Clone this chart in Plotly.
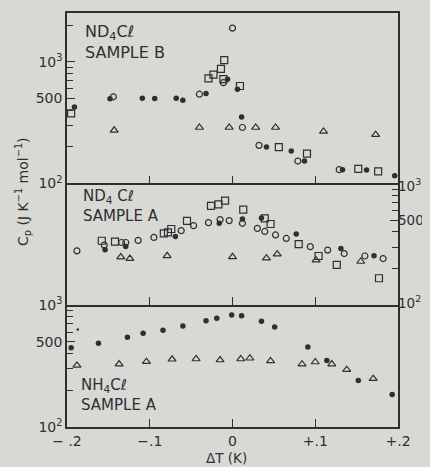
import math
import plotly.graph_objects as go

# ---------------- data ----------------
# Panel 1: ND4Cl, sample B
b_filled_x = [-0.191, -0.148, -0.109, -0.094, -0.068, -0.060, -0.032, -0.006, 0.006, 0.011, 0.041, 0.071, 0.087, 0.133, 0.162, 0.196]
b_filled_y = [427, 497, 504, 500, 504, 485, 549, 720, 595, 352, 200, 185, 153, 130, 129, 116]
b_circle_x = [-0.144, -0.040, -0.011, 0.000, 0.012, 0.032, 0.079, 0.129]
b_circle_y = [517, 543, 676, 1900, 289, 206, 153, 130]
b_square_x = [-0.195, -0.029, -0.023, -0.014, -0.010, -0.011, 0.009, 0.056, 0.090, 0.152, 0.176]
b_square_y = [377, 733, 788, 878, 1036, 722, 634, 199, 176, 132, 126]
b_tri_x = [-0.143, -0.040, -0.004, 0.028, 0.052, 0.110, 0.173]
b_tri_y = [274, 289, 289, 289, 289, 268, 252]

# Panel 2: ND4Cl, sample A
a_circle_x = [-0.188, -0.155, -0.134, -0.129, -0.114, -0.095, -0.062, -0.047, -0.029, -0.015, -0.004,
              0.012, 0.030, 0.039, 0.052, 0.065, 0.094, 0.115, 0.135, 0.160, 0.182]
a_circle_y = [279, 311, 327, 327, 340, 360, 409, 450, 476, 504, 495,
              470, 427, 403, 377, 353, 302, 283, 265, 253, 241]
a_square_x = [-0.158, -0.142, -0.083, -0.078, -0.074, -0.055, -0.026, -0.017, -0.009,
              0.013, 0.039, 0.046, 0.080, 0.104, 0.126, 0.177]
a_square_y = [338, 332, 388, 396, 422, 492, 654, 674, 724,
              610, 517, 464, 317, 253, 214, 166]
a_filled_x = [-0.154, -0.129, -0.069, -0.016, 0.012, 0.035, 0.077, 0.131, 0.171]
a_filled_y = [285, 303, 367, 470, 511, 521, 384, 292, 254]
a_tri_x = [-0.135, -0.124, -0.079, 0.000, 0.041, 0.054, 0.101, 0.155]
a_tri_y = [248, 241, 254, 249, 243, 262, 234, 228]

# Panel 3: NH4Cl, sample A
n_filled_x = [-0.195, -0.162, -0.127, -0.108, -0.084, -0.060, -0.032, -0.019, -0.001, 0.011,
              0.035, 0.051, 0.091, 0.114, 0.152, 0.193]
n_filled_y = [447, 485, 544, 586, 621, 673, 743, 778, 828, 817,
              735, 661, 453, 350, 241, 185]
n_small_x = [-0.187]
n_small_y = [630]
n_tri_x = [-0.188, -0.137, -0.104, -0.073, -0.044, -0.015, 0.010, 0.021, 0.046, 0.084, 0.100, 0.120, 0.138, 0.170]
n_tri_y = [320, 328, 343, 359, 361, 354, 361, 366, 348, 327, 341, 328, 295, 249]

x_tick_vals = [-0.2, -0.1, 0, 0.1, 0.2]
x_tick_text = ["\u2212 .2", "\u2212.1", "0", "+.1", "+.2"]
y_major_vals = [100, 500, 1000]
y_major_text = ["10<sup>2</sup>", "500", "10<sup>3</sup>"]
y_minor_vals = [200, 300, 400, 600, 700, 800, 900, 2000]

# ---------------- style ----------------
INK = "#2f2f2f"
BG = "#d8d8d5"
FONT = "DejaVu Sans"
OFF = 8  # default page margin of the html body

fig = go.Figure()


def add(xs, ys, symbol, size, panel, lw=1.2):
    fig.add_trace(go.Scatter(
        x=xs, y=ys, mode="markers",
        xaxis="x" if panel == 1 else f"x{panel}",
        yaxis="y" if panel == 1 else f"y{panel}",
        marker=dict(symbol=symbol, size=size, color=INK, line=dict(width=lw, color=INK)),
        showlegend=False, hoverinfo="skip", cliponaxis=False,
    ))


add(b_tri_x, b_tri_y, "triangle-up-open", 7, 1)
add(b_square_x, b_square_y, "square-open", 7, 1)
add(b_circle_x, b_circle_y, "circle-open", 6, 1)
add(b_filled_x, b_filled_y, "circle", 5.5, 1, 0)

add(a_tri_x, a_tri_y, "triangle-up-open", 7, 2)
add(a_square_x, a_square_y, "square-open", 7, 2)
add(a_circle_x, a_circle_y, "circle-open", 6, 2)
add(a_filled_x, a_filled_y, "circle", 5.5, 2, 0)

add(n_tri_x, n_tri_y, "triangle-up-open", 7, 3)
add(n_filled_x, n_filled_y, "circle", 5.5, 3, 0)
add(n_small_x, n_small_y, "circle", 2.5, 3, 0)

D3 = 0.2947
D2 = 0.5882

common_x = dict(range=[-0.2, 0.2], showgrid=False, zeroline=False, showline=True,
                linecolor=INK, linewidth=1.5, ticks="inside", ticklen=8, tickwidth=1.3,
                tickcolor=INK, tickmode="array", tickvals=x_tick_vals, ticktext=x_tick_text,
                domain=[0, 1], fixedrange=True, automargin=False)
common_y = dict(type="log", showgrid=False, zeroline=False, showline=True, mirror=True,
                linecolor=INK, linewidth=1.5, ticks="inside", ticklen=8, tickwidth=1.3,
                tickcolor=INK, tickmode="array", tickvals=y_major_vals, ticktext=y_major_text,
                tickfont=dict(family=FONT, size=14, color=INK), fixedrange=True,
                automargin=False,
                minor=dict(ticks="inside", ticklen=6, tickwidth=1.2, tickcolor=INK,
                           tickmode="array", tickvals=y_minor_vals, showgrid=False))

fig.update_layout(
    width=430 - OFF, height=467 - OFF,
    margin=dict(l=67 - OFF, r=32, t=13 - OFF, b=40),
    paper_bgcolor=BG, plot_bgcolor=BG,
    font=dict(family=FONT, size=15, color=INK),
    xaxis=dict(**common_x, anchor="y", mirror=True, showticklabels=False),
    xaxis2=dict(**common_x, anchor="y2", mirror=False, showticklabels=False),
    xaxis3=dict(**common_x, anchor="y3", mirror=False, showticklabels=True,
                tickfont=dict(family=FONT, size=14, color=INK)),
    yaxis=dict(**common_y, range=[2, 3.403], domain=[D2, 1], anchor="x", side="left"),
    yaxis2=dict(**common_y, range=[2, 3], domain=[D3, D2], anchor="x2", side="right",
                showticklabels=False),
    yaxis3=dict(**common_y, range=[2, 3], domain=[0, D3], anchor="x3", side="left"),
)


def px2paper(px, py):
    # px, py are screen pixels; plot area spans x 67..398, y 13..427 on screen
    return (px - 67) / 331, (427 - py) / 414


def label(text, px, py, size=16, **kw):
    xp, yp = px2paper(px, py)
    fig.add_annotation(text=text, x=xp, y=yp, xref="paper", yref="paper", showarrow=False,
                       xanchor=kw.get("xanchor", "left"), yanchor="middle", align="left",
                       borderpad=0,
                       font=dict(family=FONT, size=size, color=INK), textangle=kw.get("angle", 0))


label("ND<sub>4</sub>C\u2113<br>SAMPLE B", 84, 42, size=16)
label("ND<sub>4</sub> C\u2113<br>SAMPLE A", 82, 206, size=15)
label("NH<sub>4</sub>C\u2113<br>SAMPLE A", 80, 395, size=15)
label("\u0394T (K)", 226, 458, size=13.5, xanchor="center")
label("C<sub>p</sub> (J K<sup>\u22121</sup> mol<sup>\u22121</sup>)", 23, 192, size=14,
      xanchor="center", angle=-90)

# right-hand tick labels of the middle panel (log axis: annotation y is log10 of the value)
shifts = {100: 3, 500: 0, 1000: -2}
for v, t in zip(y_major_vals, y_major_text):
    fig.add_annotation(text=t, x=1.0, y=math.log10(v), xref="paper", yref="y2",
                       yanchor="middle", xanchor="left", xshift=-1, yshift=shifts[v],
                       showarrow=False, borderpad=0,
                       font=dict(family=FONT, size=13.5, color=INK))

fig.write_html("out.html",
               post_script=f"document.body.style.background='{BG}';")
